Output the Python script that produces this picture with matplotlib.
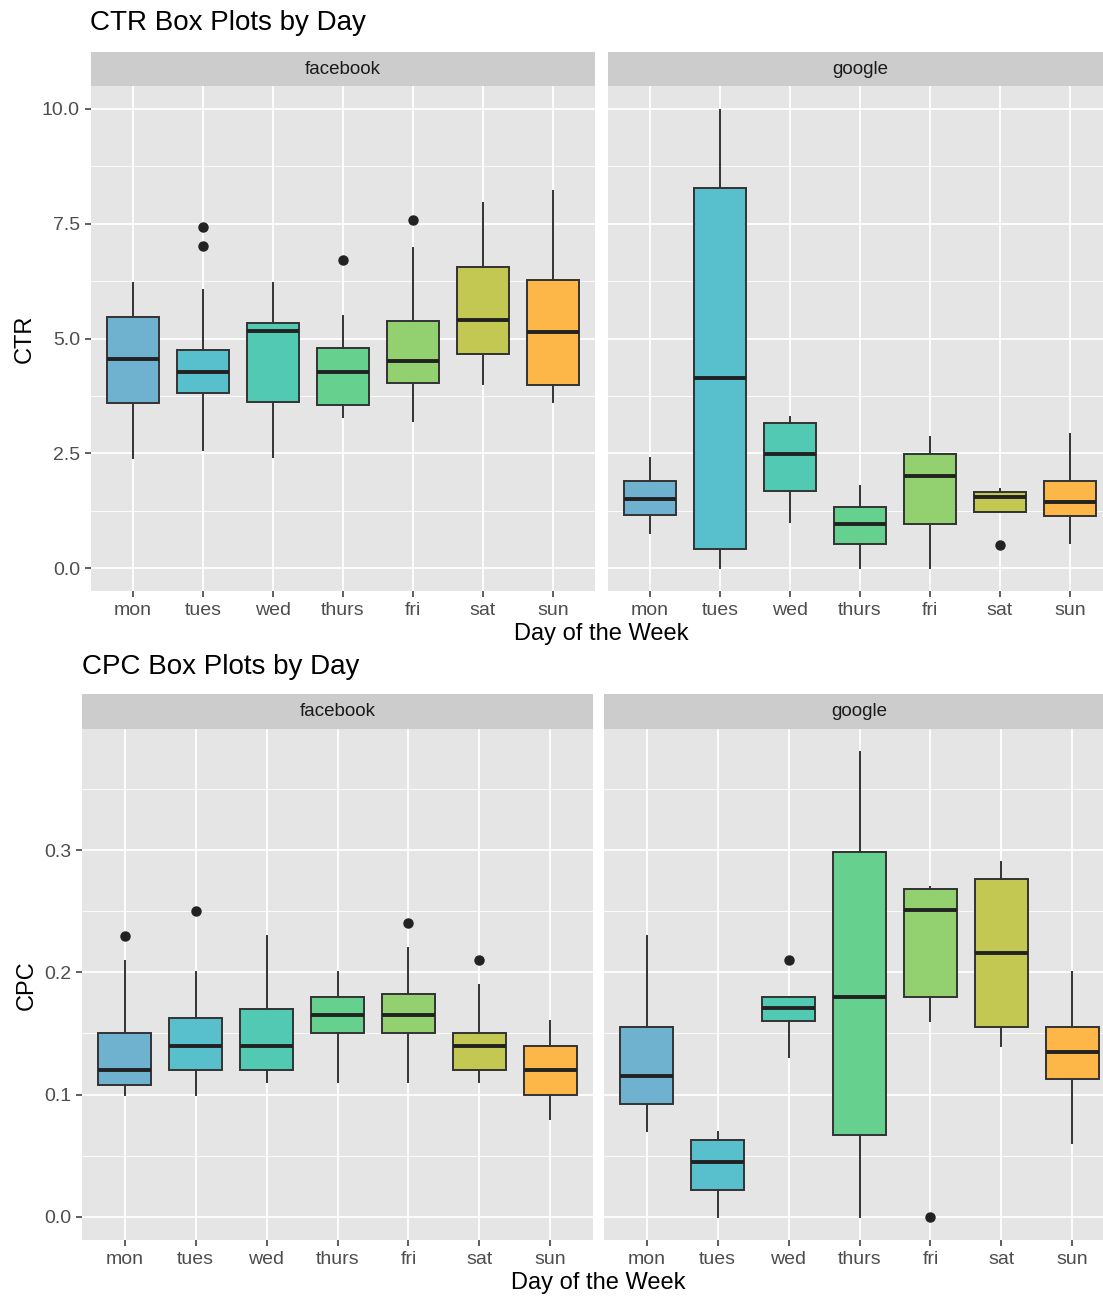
import matplotlib
matplotlib.use('Agg')
import matplotlib.pyplot as plt
import numpy as np

plt.rcParams['font.family'] = ['Liberation Sans', 'DejaVu Sans']

# Data (box stats)
days = ['mon', 'tues', 'wed', 'thurs', 'fri', 'sat', 'sun']
fills = ['#6FB2D0', '#58C0CC', '#52CAB3', '#66D08F', '#93D06F', '#C3C852', '#FDB748']

ctr_fb_lo = [2.40, 2.57, 2.42, 3.29, 3.21, 4.01, 3.62]
ctr_fb_q1 = [3.60, 3.81, 3.62, 3.56, 4.04, 4.66, 3.98]
ctr_fb_med = [4.56, 4.28, 5.16, 4.26, 4.51, 5.40, 5.15]
ctr_fb_q3 = [5.46, 4.75, 5.33, 4.80, 5.39, 6.56, 6.27]
ctr_fb_hi = [6.21, 6.06, 6.21, 5.49, 6.98, 7.95, 8.21]
ctr_fb_out = [[], [7.43, 7.01], [], [6.71], [7.58], [], []]

ctr_gg_lo = [0.77, 0.00, 1.01, 0.00, 0.00, 1.22, 0.55]
ctr_gg_q1 = [1.15, 0.42, 1.67, 0.53, 0.96, 1.22, 1.13]
ctr_gg_med = [1.51, 4.13, 2.48, 0.95, 2.00, 1.54, 1.44]
ctr_gg_q3 = [1.90, 8.27, 3.15, 1.32, 2.48, 1.65, 1.90]
ctr_gg_hi = [2.40, 9.98, 3.29, 1.79, 2.85, 1.73, 2.93]
ctr_gg_out = [[], [], [], [], [], [0.51], []]

cpc_fb_lo = [0.100, 0.100, 0.110, 0.110, 0.110, 0.110, 0.080]
cpc_fb_q1 = [0.108, 0.120, 0.120, 0.150, 0.150, 0.120, 0.100]
cpc_fb_med = [0.120, 0.140, 0.140, 0.165, 0.165, 0.140, 0.120]
cpc_fb_q3 = [0.150, 0.163, 0.170, 0.180, 0.182, 0.150, 0.140]
cpc_fb_hi = [0.209, 0.200, 0.230, 0.200, 0.220, 0.190, 0.160]
cpc_fb_out = [[0.230], [0.250], [], [], [0.240], [0.210], []]

cpc_gg_lo = [0.070, 0.000, 0.131, 0.000, 0.160, 0.140, 0.060]
cpc_gg_q1 = [0.092, 0.022, 0.160, 0.067, 0.180, 0.155, 0.113]
cpc_gg_med = [0.115, 0.045, 0.171, 0.180, 0.251, 0.216, 0.135]
cpc_gg_q3 = [0.155, 0.0625, 0.180, 0.298, 0.268, 0.276, 0.155]
cpc_gg_hi = [0.230, 0.069, 0.180, 0.380, 0.270, 0.290, 0.200]
cpc_gg_out = [[], [], [0.210], [], [0.000], [], []]

W, H = 1103, 1298
fig = plt.figure(figsize=(W / 100, H / 100), dpi=100)


def rect(l, t, r, b):
    return [l / W, 1 - b / H, (r - l) / W, (b - t) / H]


def panel(box, strip_top, label, lo, q1, med, q3, hi, out,
          ylim, major, minor, fmt, yticks_on):
    l, t, r, b = box
    ax = fig.add_axes(rect(l, t, r, b))
    ax.set_facecolor('#E5E5E5')
    for s in ax.spines.values():
        s.set_visible(False)
    ax.set_axisbelow(True)
    stats = []
    for i in range(len(days)):
        stats.append(dict(whislo=lo[i], q1=q1[i], med=med[i], q3=q3[i],
                          whishi=hi[i], fliers=out[i]))
    bp = ax.bxp(stats, positions=np.arange(1, 8), widths=0.75,
                showcaps=False, patch_artist=True,
                boxprops=dict(edgecolor='#333333', linewidth=1.4),
                whiskerprops=dict(color='#333333', linewidth=1.4),
                medianprops=dict(color='#222222', linewidth=2.8),
                flierprops=dict(marker='o', markerfacecolor='#222222',
                                markeredgecolor='#222222', markersize=6.5))
    for patch, c in zip(bp['boxes'], fills):
        patch.set_facecolor(c)
    ax.set_xlim(0.4, 7.6)
    ax.set_ylim(*ylim)
    ax.set_xticks(np.arange(1, 8))
    ax.set_xticklabels(days)
    ax.set_yticks(major)
    ax.set_yticks(minor, minor=True)
    ax.yaxis.set_major_formatter(plt.FuncFormatter(lambda v, p: fmt.format(v)))
    ax.grid(which='major', color='white', linewidth=1.3)
    ax.grid(which='minor', axis='y', color='white', linewidth=0.6)
    ax.tick_params(axis='both', which='major', colors='#333333', length=4,
                   width=1.1, labelsize=14, labelcolor='#4D4D4D', pad=4)
    ax.tick_params(axis='y', which='minor', length=0)
    if not yticks_on:
        ax.tick_params(axis='y', which='major', length=0, labelleft=False)
    sx = fig.add_axes(rect(l, strip_top, r, t))
    sx.set_facecolor('#CCCCCC')
    sx.set_xticks([])
    sx.set_yticks([])
    for s in sx.spines.values():
        s.set_visible(False)
    # keep strip label centred on the full (possibly cropped) panel
    sx.text(0.5, 0.5, label, ha='center', va='center', fontsize=13.5,
            color='#1A1A1A', transform=sx.transAxes)
    return ax


# CTR
panel((91, 86, 595, 591), 52, 'facebook', ctr_fb_lo, ctr_fb_q1, ctr_fb_med,
      ctr_fb_q3, ctr_fb_hi, ctr_fb_out, (-0.5, 10.5),
      [0, 2.5, 5, 7.5, 10], [1.25, 3.75, 6.25, 8.75], '{:.1f}', True)
panel((608, 86, 1112, 591), 52, 'google', ctr_gg_lo, ctr_gg_q1, ctr_gg_med,
      ctr_gg_q3, ctr_gg_hi, ctr_gg_out, (-0.5, 10.5),
      [0, 2.5, 5, 7.5, 10], [1.25, 3.75, 6.25, 8.75], '{:.1f}', False)
fig.text(90 / W, 1 - 23 / H, 'CTR Box Plots by Day', fontsize=20,
         ha='left', va='center', color='black')
fig.text(25 / W, 1 - 339 / H, 'CTR', fontsize=17, rotation=90,
         ha='center', va='center')
fig.text(601 / W, 1 - 634 / H, 'Day of the Week', fontsize=17,
         ha='center', va='center')

# CPC
panel((82, 729, 593, 1240), 694, 'facebook', cpc_fb_lo, cpc_fb_q1, cpc_fb_med,
      cpc_fb_q3, cpc_fb_hi, cpc_fb_out, (-0.019, 0.399),
      [0, 0.1, 0.2, 0.3], [0.05, 0.15, 0.25, 0.35], '{:.1f}', True)
panel((604, 729, 1115, 1240), 694, 'google', cpc_gg_lo, cpc_gg_q1, cpc_gg_med,
      cpc_gg_q3, cpc_gg_hi, cpc_gg_out, (-0.019, 0.399),
      [0, 0.1, 0.2, 0.3], [0.05, 0.15, 0.25, 0.35], '{:.1f}', False)
fig.text(82 / W, 1 - 667 / H, 'CPC Box Plots by Day', fontsize=20,
         ha='left', va='center', color='black')
fig.text(27 / W, 1 - 985 / H, 'CPC', fontsize=17, rotation=90,
         ha='center', va='center')
fig.text(598 / W, 1 - 1283 / H, 'Day of the Week', fontsize=17,
         ha='center', va='center')

fig.savefig('out.png', dpi=100)
